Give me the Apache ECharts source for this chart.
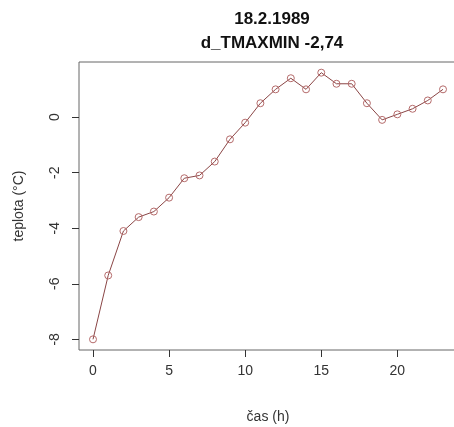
<!DOCTYPE html>
<html>
<head>
<meta charset="utf-8">
<script src="https://cdn.jsdelivr.net/npm/echarts@6/dist/echarts.min.js"></script>
<style>
  html, body { margin: 0; padding: 0; background: #fff; }
  #chart { width: 454px; height: 427px; }
</style>
</head>
<body>
<div id="chart"></div>
<script>
const hours = [0, 1, 2, 3, 4, 5, 6, 7, 8, 9, 10, 11, 12, 13, 14, 15, 16, 17, 18, 19, 20, 21, 22, 23]
const temps = [-8.0, -5.7, -4.1, -3.6, -3.4, -2.9, -2.2, -2.1, -1.6, -0.8, -0.2, 0.5, 1.0, 1.4, 1.0, 1.6, 1.2, 1.2, 0.5, -0.1, 0.1, 0.3, 0.6, 1.0]
const xTicks = [0, 5, 10, 15, 20]
const yTicks = [-8, -6, -4, -2, 0]
const titleLines = ["18.2.1989", "d_TMAXMIN -2,74"]

// R-style 4% padding around the data range
const pad = (lo, hi) => [lo - (hi - lo) * 0.04, hi + (hi - lo) * 0.04]
const [xMin, xMax] = pad(Math.min(...hours), Math.max(...hours))
const [yMin, yMax] = pad(Math.min(...temps), Math.max(...temps))

const chart = echarts.init(document.getElementById("chart"))
const font = "Liberation Sans, Arial, sans-serif"

const options = {
  animation: false,
  title: {
    text: titleLines.join("\n"),
    left: 267,
    top: 2,
    textAlign: "center",
    textStyle: {
      fontFamily: font,
      fontSize: 17,
      fontWeight: "bold",
      color: "#111",
      lineHeight: 24
    }
  },
  grid: {
    show: true,
    left: 79,
    top: 62,
    width: 378,
    bottom: 77,
    outerBoundsMode: "none",
    containLabel: false,
    borderColor: "#666",
    borderWidth: 1,
    backgroundColor: "transparent"
  },
  xAxis: {
    type: "value",
    min: xMin,
    max: xMax,
    name: "čas (h)",
    nameLocation: "middle",
    nameGap: 60,
    nameTextStyle: { fontFamily: font, fontSize: 14, color: "#333", verticalAlign: "top" },
    splitLine: { show: false },
    axisLine: { show: false, onZero: false },
    axisTick: { show: true, length: 7, customValues: xTicks, lineStyle: { color: "#333" } },
    axisLabel: {
      customValues: xTicks,
      margin: 14,
      fontFamily: font,
      fontSize: 14,
      color: "#333"
    }
  },
  yAxis: {
    type: "value",
    min: yMin,
    max: yMax,
    name: "teplota (°C)",
    nameLocation: "middle",
    nameGap: 53,
    nameRotate: 90,
    nameTextStyle: { fontFamily: font, fontSize: 14, color: "#333" },
    splitLine: { show: false },
    axisLine: { show: false, onZero: false },
    axisTick: { show: true, length: 7, customValues: yTicks, lineStyle: { color: "#333" } },
    axisLabel: {
      customValues: yTicks,
      rotate: 90,
      margin: 17,
      fontFamily: font,
      fontSize: 14,
      color: "#333"
    }
  },
  series: [
    {
      type: "line",
      data: hours.map((h, i) => [h, temps[i]]),
      symbol: "circle",
      symbolSize: 7,
      showAllSymbol: true,
      lineStyle: { color: "#8a4545", width: 1 },
      itemStyle: { color: "rgba(0,0,0,0)", borderColor: "#b46a6a", borderWidth: 1 }
    }
  ]
}

chart.setOption(options)
</script>
</body>
</html>
